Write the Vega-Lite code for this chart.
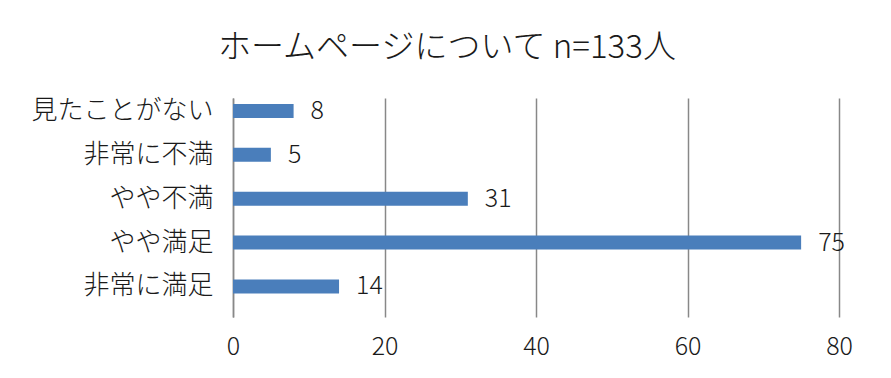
{
  "$schema": "https://vega.github.io/schema/vega-lite/v6.json",
  "width": 606,
  "height": 219,
  "autosize": {"type": "none"},
  "padding": {"left": 233, "top": 98, "right": 52, "bottom": 61},
  "background": "white",
  "title": {
    "text": "ホームページについて n=133人",
    "font": "Noto Sans CJK JP",
    "fontSize": 33,
    "fontWeight": 300,
    "color": "#1a1a1a",
    "anchor": "middle",
    "dx": -89,
    "offset": 32
  },
  "data": {
    "values": [
      {"category": "見たことがない", "count": 8},
      {"category": "非常に不満", "count": 5},
      {"category": "やや不満", "count": 31},
      {"category": "やや満足", "count": 75},
      {"category": "非常に満足", "count": 14}
    ]
  },
  "encoding": {
    "y": {
      "field": "category",
      "type": "nominal",
      "sort": null,
      "scale": {"paddingInner": 0.68, "paddingOuter": 0.335, "align": 0.2},
      "axis": {
        "title": null,
        "ticks": false,
        "labelPadding": 20,
        "labelLimit": 300,
        "labelFont": "Noto Sans CJK JP",
        "labelFontSize": 26,
        "labelFontWeight": 300,
        "labelColor": "#1a1a1a",
        "domainColor": "#888888",
        "domainWidth": 1.5,
        "grid": false
      }
    },
    "x": {
      "field": "count",
      "type": "quantitative",
      "scale": {"domain": [0, 80], "nice": false},
      "axis": {
        "title": null,
        "values": [0, 20, 40, 60, 80],
        "ticks": false,
        "domain": false,
        "grid": true,
        "gridColor": "#888888",
        "gridWidth": 1.5,
        "labelPadding": 17,
        "labelFont": "Noto Sans CJK JP",
        "labelFontSize": 25,
        "labelFontWeight": 300,
        "labelColor": "#1a1a1a",
        "labelFlush": false
      }
    }
  },
  "layer": [
    {"mark": {"type": "bar", "color": "#4a7ebb"}},
    {
      "mark": {
        "type": "text",
        "align": "left",
        "baseline": "middle",
        "dx": 17,
        "font": "Noto Sans CJK JP",
        "fontSize": 25,
        "fontWeight": 300,
        "color": "#1a1a1a"
      },
      "encoding": {"text": {"field": "count", "type": "quantitative"}}
    }
  ],
  "config": {"view": {"stroke": null}}
}
